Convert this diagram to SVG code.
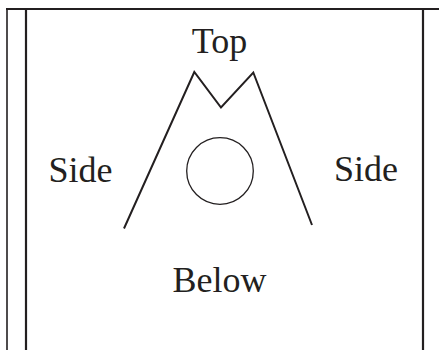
<svg xmlns="http://www.w3.org/2000/svg" width="439" height="350" viewBox="0 0 439 350">
<style>
.ln{stroke:#231f20;fill:none;stroke-linecap:butt}
.lbl{font-family:"Liberation Serif","Times New Roman",serif;font-size:36px;fill:#231f20;text-anchor:middle}
</style>
<rect width="439" height="350" fill="#fff"/>
<g id="frame">
<line class="ln" x1="6" y1="9" x2="439" y2="9" stroke-width="2.2"/>
<line class="ln" x1="7" y1="8" x2="7" y2="350" stroke-width="1.6"/>
<line class="ln" x1="26" y1="9" x2="26" y2="350" stroke-width="2.2"/>
<line class="ln" x1="423" y1="9" x2="423" y2="350" stroke-width="2.2"/>
</g>
<g id="shape">
<polyline class="ln" points="124,228.5 194.3,72 221,107.5 253.3,72.5 312,225" stroke-width="2" stroke-linejoin="miter"/>
</g>
<g id="circle">
<circle class="ln" cx="220" cy="171" r="33.3" stroke-width="1.3"/>
</g>
<g id="labels">
<text class="lbl" x="219.5" y="52.5">Top</text>
<text class="lbl" x="80.5" y="181.5">Side</text>
<text class="lbl" x="366" y="181">Side</text>
<text class="lbl" x="219.5" y="291.5">Below</text>
</g>
</svg>
